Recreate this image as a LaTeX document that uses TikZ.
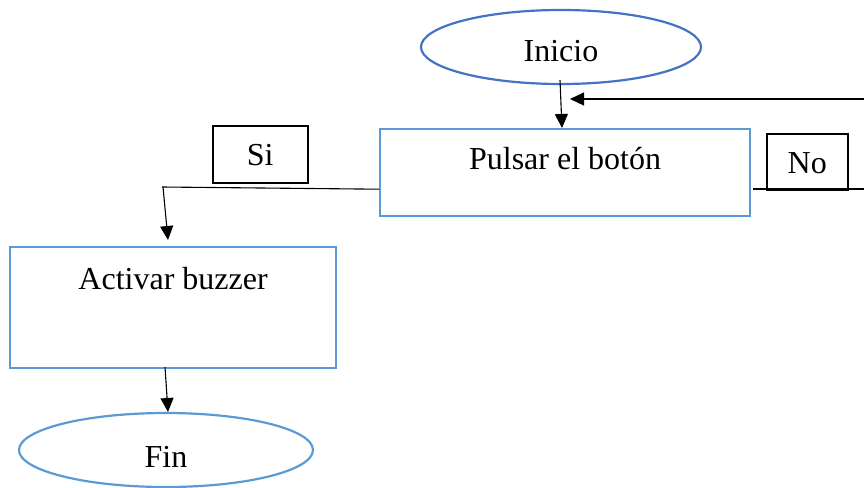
\documentclass[tikz,border=0pt]{standalone}
\usepackage{fontspec}
\setmainfont{Liberation Serif}
\usetikzlibrary{shapes.geometric,arrows.meta,calc}
\definecolor{dblue}{HTML}{4472C4}
\definecolor{lblue}{HTML}{5B9BD5}
\tikzset{
  term/.style={ellipse,draw=#1,line width=2.2pt,inner sep=0pt,text depth=0pt},
  procbox/.style={rectangle,draw=lblue,line width=2.2pt,inner xsep=0pt,inner ysep=0pt},
  lblbox/.style={rectangle,draw=black,line width=1.5pt,inner xsep=0pt,inner ysep=0pt},
  conn/.style={line width=1.1pt,black},
  arr/.style={conn,-{Triangle[length=14pt,width=13pt]}},
  every node/.style={font=\fontsize{32}{36}\selectfont}
}
\begin{document}
\begin{tikzpicture}[x=1pt,y=-1pt]
\useasboundingbox (0,0) rectangle (864,487);
% nodes
\node[term=dblue,minimum width=280pt,minimum height=74pt,text height=30pt] (inicio) at (561,47) {Inicio};
\node[procbox,minimum width=370pt,text height=40pt,text depth=47pt,anchor=north west] (pulsar) at (379,128) {\makebox[370pt]{Pulsar el botón}};
\node[lblbox,minimum width=95pt,text height=40pt,text depth=17pt,anchor=north west] (si) at (212,125) {\makebox[95pt]{Si}};
\node[lblbox,minimum width=81pt,text height=40pt,text depth=16pt,anchor=north west] (no) at (766,133) {\makebox[81pt]{No}};
\node[procbox,minimum width=326pt,text height=42pt,text depth=79pt,anchor=north west] (activar) at (9,246) {\makebox[326pt]{Activar buzzer}};
\node[term=lblue,minimum width=294pt,minimum height=74pt,text height=34pt] (fin) at (166,450) {Fin};
% coordinates
\coordinate (a1) at ($(inicio.south)+(-1,-5)$);
\coordinate (a2) at (562,128);
\coordinate (fbR) at (864,99);
\coordinate (fbT) at (570,99);
\coordinate (noL) at (753,189);
\coordinate (noR) at (864,189);
\coordinate (siR) at ($(pulsar.south west)+(0,-28)$);
\coordinate (siL) at (162,187);
\coordinate (siT) at (168,240);
\coordinate (b1) at (165,367);
\coordinate (b2) at (168,412);
% connectors
\draw[arr] (a1) -- (a2);
\draw[arr] (fbR) -- (fbT);
\draw[conn] (noL) -- (noR);
\draw[conn] (siR) -- (siL);
\draw[arr] ($(siL)+(1,0)$) -- (siT);
\draw[arr] (b1) -- (b2);
\end{tikzpicture}
\end{document}
